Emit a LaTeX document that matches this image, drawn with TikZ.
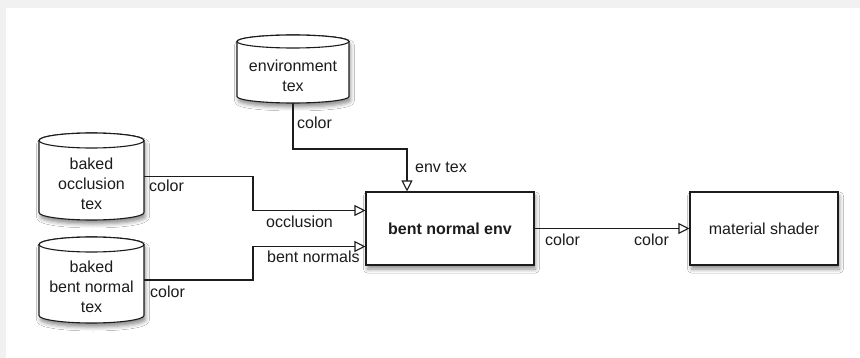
\documentclass[tikz,border=0pt]{standalone}
\usepackage{fontspec}
\setmainfont{Liberation Sans}
\usetikzlibrary{arrows.meta,positioning,shapes.geometric,shadows.blur}
\definecolor{Ink}{HTML}{1C1C1C}
\definecolor{Frame}{HTML}{F1F1F1}
\colorlet{ink}{Ink}
\colorlet{frame}{Frame}
\tikzset{
  soft/.style={blur shadow={shadow xshift=1.5pt,shadow yshift=-4pt,shadow blur radius=4pt,shadow opacity=45}},
  slot/.style={inner sep=0pt,outer sep=0pt},
  drumline/.style={draw=ink,line width=1.1pt,fill=white},
  stage/.style={draw=ink,line width=1.1pt,fill=white,soft,minimum height=73pt},
  wire/.style={draw=ink,line width=1.1pt,-{Triangle[open,length=11pt,width=11pt]}},
  tag/.style={inner sep=0pt}
}
% drum outline round a named slot: #1 name, #2 half width, #3 half height of the lid
\newcommand\drum[3]{%
  \path[drumline,soft] ([yshift=-#3]#1.north west) -- ([yshift=#3]#1.south west)
    arc[start angle=180,end angle=360,x radius=#2,y radius=#3]
    -- ([yshift=-#3]#1.north east)
    arc[start angle=0,end angle=180,x radius=#2,y radius=#3] -- cycle;
  \draw[drumline] ([yshift=-#3]#1.north) ellipse[x radius=#2,y radius=#3];
}
\begin{document}
\begin{tikzpicture}[x=1pt,y=-1pt,every node/.style={font=\fontsize{16}{20}\selectfont,align=center,text=ink}]
\fill[frame] (0,0) rectangle (860,358);
\fill[white] (6,8) rectangle (860,358);
\useasboundingbox (0,0) rectangle (860,358);
% sources
\node[slot,minimum width=112pt,minimum height=68pt] (envtex) at (293,69) {};
\node[slot,minimum width=105pt,minimum height=87pt] (occ) at (91.5,176.5) {};
\node[slot,minimum width=105pt,minimum height=86pt] (bent) at (91.5,280) {};
\drum{envtex}{56pt}{6.5pt}
\drum{occ}{52.5pt}{7.5pt}
\drum{bent}{52.5pt}{7.5pt}
\node (envtexname) at ([yshift=-6.5pt]envtex.center) {environment\\tex};
\node (occname) at ([yshift=-7pt]occ.center) {baked\\occlusion\\tex};
\node (bentname) at ([yshift=-7pt]bent.center) {baked\\bent normal\\tex};
% stages
\node[stage,minimum width=168pt,font=\fontsize{16}{20}\selectfont\bfseries] (bne) at (450,228.5) {bent normal env};
\node[stage,minimum width=148pt] (ms) at (764,228.5) {material shader};
% connections
\draw[wire] (envtex.south) -- ++(0,46) -| ([xshift=-43pt]bne.north);
\draw[wire] (occ.east) -- ++(109,0) |- ([yshift=18pt]bne.west);
\draw[wire] (bent.east) -- ++(109,0) |- ([yshift=-18pt]bne.west);
\draw[wire] (bne.east) -- (ms.west);
% port labels
\node[tag,anchor=west] (envout) at (297,123) {color};
\node[tag,anchor=west] (envin) at (415,167) {env tex};
\node[tag,anchor=west] (occout) at (149,186) {color};
\node[tag,anchor=west] (occin) at (266,222) {occlusion};
\node[tag,anchor=west] (bentout) at (150,292) {color};
\node[tag,anchor=west] (bentin) at (267,257) {bent normals};
\node[tag,anchor=west] (bneout) at (545,240) {color};
\node[tag,anchor=west] (msin) at (634,240) {color};
\end{tikzpicture}
\end{document}
